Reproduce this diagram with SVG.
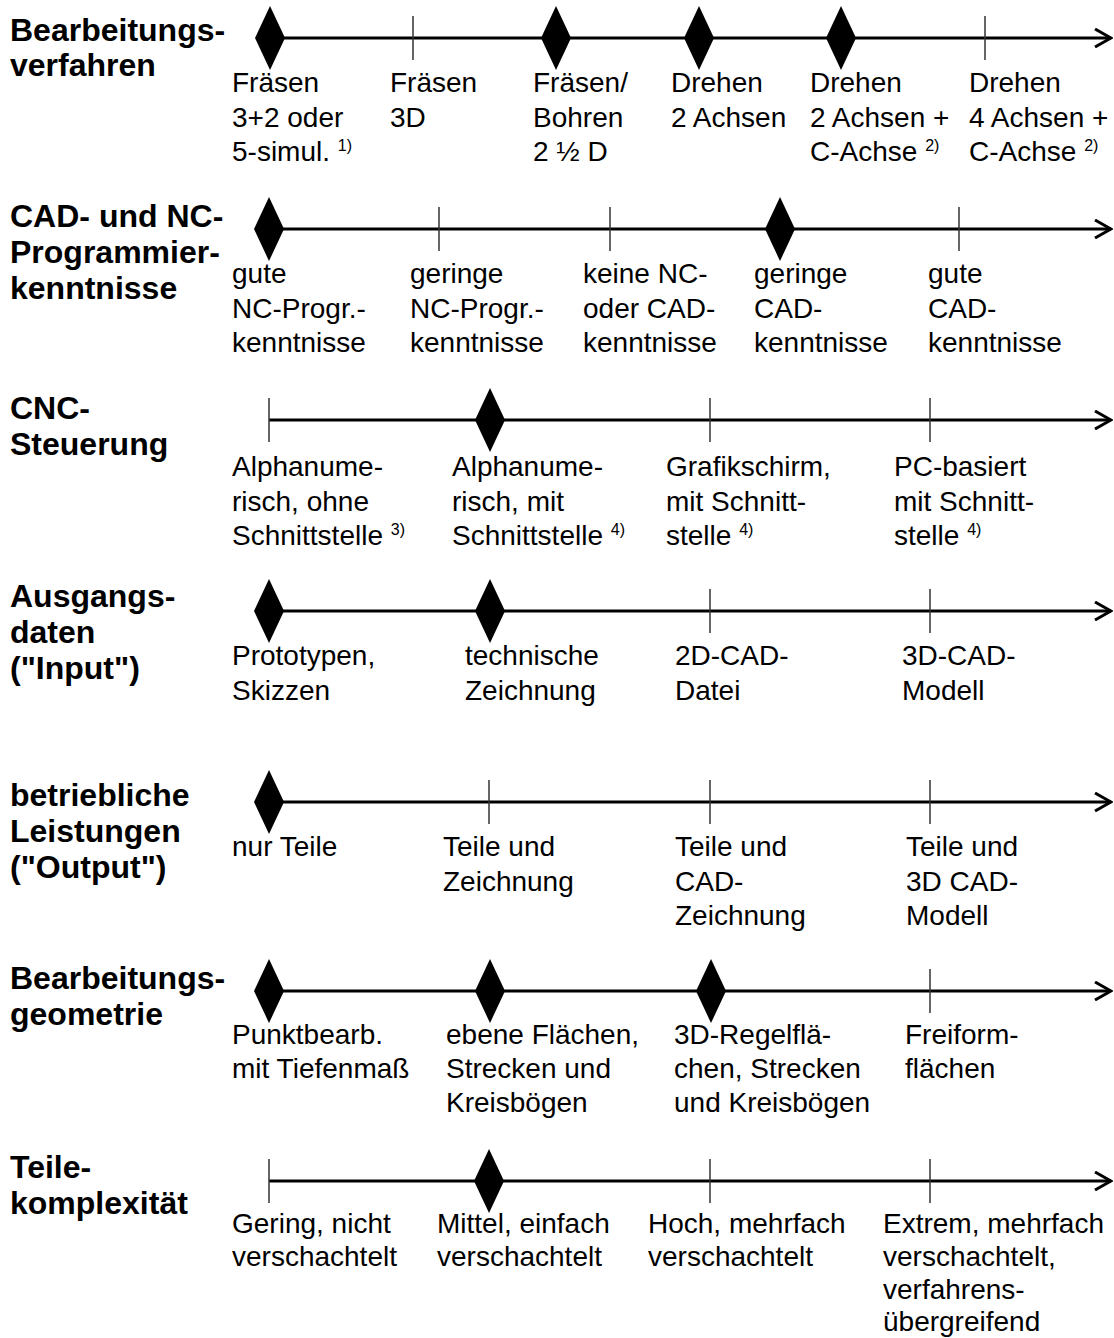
<svg xmlns="http://www.w3.org/2000/svg" width="1114" height="1338" viewBox="0 0 1114 1338">
  <style>
    text { font-family: "Liberation Sans", Arial, sans-serif; fill: #000; }
    .cat { font-size: 32px; font-weight: bold; }
    .lbl { font-size: 28px; }
    .sup { font-size: 16px; }
    .axis { stroke: #000; stroke-width: 3; fill: none; }
    .tick { stroke: #333; stroke-width: 1.5; }
    .dia { fill: #000; }
  </style>
  <defs>
    <marker id="arrow" viewBox="0 0 20 20" refX="18" refY="10" markerWidth="20" markerHeight="20" markerUnits="userSpaceOnUse" orient="auto">
      <path d="M2,1 L18,10 L2,19" fill="none" stroke="#000" stroke-width="3"/>
    </marker>
    <path id="diamond" class="dia" d="M0,-32 L15,0 L0,32 L-15,0 Z"/>
    <line id="tick" class="tick" x1="0" y1="-22" x2="0" y2="22"/>
  </defs>

  <!-- axes -->
  <g id="axes">
    <line class="axis" x1="269" y1="38" x2="1111" y2="38" marker-end="url(#arrow)"/>
    <line class="axis" x1="269" y1="229" x2="1111" y2="229" marker-end="url(#arrow)"/>
    <line class="axis" x1="269" y1="420" x2="1111" y2="420" marker-end="url(#arrow)"/>
    <line class="axis" x1="269" y1="611" x2="1111" y2="611" marker-end="url(#arrow)"/>
    <line class="axis" x1="269" y1="802" x2="1111" y2="802" marker-end="url(#arrow)"/>
    <line class="axis" x1="269" y1="991" x2="1111" y2="991" marker-end="url(#arrow)"/>
    <line class="axis" x1="269" y1="1181" x2="1111" y2="1181" marker-end="url(#arrow)"/>
  </g>

  <!-- row 1: Bearbeitungsverfahren -->
  <g id="r1-title"><text class="cat"><tspan x="10" y="41">Bearbeitungs-</tspan><tspan x="10" y="76">verfahren</tspan></text></g>
  <g id="r1-p1"><use href="#diamond" x="270" y="38"/>
    <text class="lbl"><tspan x="232" y="92">Fräsen</tspan><tspan x="232" y="126.5">3+2 oder</tspan><tspan x="232" y="161">5-simul. <tspan class="sup" dy="-10">1)</tspan></tspan></text></g>
  <g id="r1-p2"><use href="#tick" x="413" y="38"/>
    <text class="lbl"><tspan x="390" y="92">Fräsen</tspan><tspan x="390" y="126.5">3D</tspan></text></g>
  <g id="r1-p3"><use href="#diamond" x="556" y="38"/>
    <text class="lbl"><tspan x="533" y="92">Fräsen/</tspan><tspan x="533" y="126.5">Bohren</tspan><tspan x="533" y="161">2 ½ D</tspan></text></g>
  <g id="r1-p4"><use href="#diamond" x="699" y="38"/>
    <text class="lbl"><tspan x="671" y="92">Drehen</tspan><tspan x="671" y="126.5">2 Achsen</tspan></text></g>
  <g id="r1-p5"><use href="#diamond" x="841" y="38"/>
    <text class="lbl"><tspan x="810" y="92">Drehen</tspan><tspan x="810" y="126.5">2 Achsen +</tspan><tspan x="810" y="161">C-Achse <tspan class="sup" dy="-10">2)</tspan></tspan></text></g>
  <g id="r1-p6"><use href="#tick" x="985" y="38"/>
    <text class="lbl"><tspan x="969" y="92">Drehen</tspan><tspan x="969" y="126.5">4 Achsen +</tspan><tspan x="969" y="161">C-Achse <tspan class="sup" dy="-10">2)</tspan></tspan></text></g>

  <!-- row 2: CAD- und NC-Programmierkenntnisse -->
  <g id="r2-title"><text class="cat"><tspan x="10" y="227">CAD- und NC-</tspan><tspan x="10" y="263">Programmier-</tspan><tspan x="10" y="299">kenntnisse</tspan></text></g>
  <g id="r2-p1"><use href="#diamond" x="269" y="229"/>
    <text class="lbl"><tspan x="232" y="283">gute</tspan><tspan x="232" y="317.5">NC-Progr.-</tspan><tspan x="232" y="352">kenntnisse</tspan></text></g>
  <g id="r2-p2"><use href="#tick" x="439" y="229"/>
    <text class="lbl"><tspan x="410" y="283">geringe</tspan><tspan x="410" y="317.5">NC-Progr.-</tspan><tspan x="410" y="352">kenntnisse</tspan></text></g>
  <g id="r2-p3"><use href="#tick" x="610" y="229"/>
    <text class="lbl"><tspan x="583" y="283">keine NC-</tspan><tspan x="583" y="317.5">oder CAD-</tspan><tspan x="583" y="352">kenntnisse</tspan></text></g>
  <g id="r2-p4"><use href="#diamond" x="780" y="229"/>
    <text class="lbl"><tspan x="754" y="283">geringe</tspan><tspan x="754" y="317.5">CAD-</tspan><tspan x="754" y="352">kenntnisse</tspan></text></g>
  <g id="r2-p5"><use href="#tick" x="959" y="229"/>
    <text class="lbl"><tspan x="928" y="283">gute</tspan><tspan x="928" y="317.5">CAD-</tspan><tspan x="928" y="352">kenntnisse</tspan></text></g>

  <!-- row 3: CNC-Steuerung -->
  <g id="r3-title"><text class="cat"><tspan x="10" y="419">CNC-</tspan><tspan x="10" y="455">Steuerung</tspan></text></g>
  <g id="r3-p1"><use href="#tick" x="269" y="420"/>
    <text class="lbl"><tspan x="232" y="476">Alphanume-</tspan><tspan x="232" y="510.5">risch, ohne</tspan><tspan x="232" y="545">Schnittstelle <tspan class="sup" dy="-10">3)</tspan></tspan></text></g>
  <g id="r3-p2"><use href="#diamond" x="490" y="420"/>
    <text class="lbl"><tspan x="452" y="476">Alphanume-</tspan><tspan x="452" y="510.5">risch, mit</tspan><tspan x="452" y="545">Schnittstelle <tspan class="sup" dy="-10">4)</tspan></tspan></text></g>
  <g id="r3-p3"><use href="#tick" x="710" y="420"/>
    <text class="lbl"><tspan x="666" y="476">Grafikschirm,</tspan><tspan x="666" y="510.5">mit Schnitt-</tspan><tspan x="666" y="545">stelle <tspan class="sup" dy="-10">4)</tspan></tspan></text></g>
  <g id="r3-p4"><use href="#tick" x="930" y="420"/>
    <text class="lbl"><tspan x="894" y="476">PC-basiert</tspan><tspan x="894" y="510.5">mit Schnitt-</tspan><tspan x="894" y="545">stelle <tspan class="sup" dy="-10">4)</tspan></tspan></text></g>

  <!-- row 4: Ausgangsdaten -->
  <g id="r4-title"><text class="cat"><tspan x="10" y="607">Ausgangs-</tspan><tspan x="10" y="643">daten</tspan><tspan x="10" y="679">("Input")</tspan></text></g>
  <g id="r4-p1"><use href="#diamond" x="269" y="611"/>
    <text class="lbl"><tspan x="232" y="665">Prototypen,</tspan><tspan x="232" y="699.5">Skizzen</tspan></text></g>
  <g id="r4-p2"><use href="#diamond" x="490" y="611"/>
    <text class="lbl"><tspan x="465" y="665">technische</tspan><tspan x="465" y="699.5">Zeichnung</tspan></text></g>
  <g id="r4-p3"><use href="#tick" x="710" y="611"/>
    <text class="lbl"><tspan x="675" y="665">2D-CAD-</tspan><tspan x="675" y="699.5">Datei</tspan></text></g>
  <g id="r4-p4"><use href="#tick" x="930" y="611"/>
    <text class="lbl"><tspan x="902" y="665">3D-CAD-</tspan><tspan x="902" y="699.5">Modell</tspan></text></g>

  <!-- row 5: betriebliche Leistungen -->
  <g id="r5-title"><text class="cat"><tspan x="10" y="806">betriebliche</tspan><tspan x="10" y="842">Leistungen</tspan><tspan x="10" y="878">("Output")</tspan></text></g>
  <g id="r5-p1"><use href="#diamond" x="269" y="802"/>
    <text class="lbl"><tspan x="232" y="856">nur Teile</tspan></text></g>
  <g id="r5-p2"><use href="#tick" x="489" y="802"/>
    <text class="lbl"><tspan x="443" y="856">Teile und</tspan><tspan x="443" y="890.5">Zeichnung</tspan></text></g>
  <g id="r5-p3"><use href="#tick" x="710" y="802"/>
    <text class="lbl"><tspan x="675" y="856">Teile und</tspan><tspan x="675" y="890.5">CAD-</tspan><tspan x="675" y="925">Zeichnung</tspan></text></g>
  <g id="r5-p4"><use href="#tick" x="930" y="802"/>
    <text class="lbl"><tspan x="906" y="856">Teile und</tspan><tspan x="906" y="890.5">3D CAD-</tspan><tspan x="906" y="925">Modell</tspan></text></g>

  <!-- row 6: Bearbeitungsgeometrie -->
  <g id="r6-title"><text class="cat"><tspan x="10" y="989">Bearbeitungs-</tspan><tspan x="10" y="1025">geometrie</tspan></text></g>
  <g id="r6-p1"><use href="#diamond" x="269" y="991"/>
    <text class="lbl"><tspan x="232" y="1044">Punktbearb.</tspan><tspan x="232" y="1078">mit Tiefenmaß</tspan></text></g>
  <g id="r6-p2"><use href="#diamond" x="490" y="991"/>
    <text class="lbl"><tspan x="446" y="1044">ebene Flächen,</tspan><tspan x="446" y="1078">Strecken und</tspan><tspan x="446" y="1112">Kreisbögen</tspan></text></g>
  <g id="r6-p3"><use href="#diamond" x="711" y="991"/>
    <text class="lbl"><tspan x="674" y="1044">3D-Regelflä-</tspan><tspan x="674" y="1078">chen, Strecken</tspan><tspan x="674" y="1112">und Kreisbögen</tspan></text></g>
  <g id="r6-p4"><use href="#tick" x="930" y="991"/>
    <text class="lbl"><tspan x="905" y="1044">Freiform-</tspan><tspan x="905" y="1078">flächen</tspan></text></g>

  <!-- row 7: Teilekomplexität -->
  <g id="r7-title"><text class="cat"><tspan x="10" y="1178">Teile-</tspan><tspan x="10" y="1214">komplexität</tspan></text></g>
  <g id="r7-p1"><use href="#tick" x="269" y="1181"/>
    <text class="lbl"><tspan x="232" y="1233">Gering, nicht</tspan><tspan x="232" y="1266">verschachtelt</tspan></text></g>
  <g id="r7-p2"><use href="#diamond" x="489" y="1181"/>
    <text class="lbl"><tspan x="437" y="1233">Mittel, einfach</tspan><tspan x="437" y="1266">verschachtelt</tspan></text></g>
  <g id="r7-p3"><use href="#tick" x="710" y="1181"/>
    <text class="lbl"><tspan x="648" y="1233">Hoch, mehrfach</tspan><tspan x="648" y="1266">verschachtelt</tspan></text></g>
  <g id="r7-p4"><use href="#tick" x="930" y="1181"/>
    <text class="lbl"><tspan x="883" y="1233">Extrem, mehrfach</tspan><tspan x="883" y="1266">verschachtelt,</tspan><tspan x="883" y="1299">verfahrens-</tspan><tspan x="883" y="1331">übergreifend</tspan></text></g>
</svg>
